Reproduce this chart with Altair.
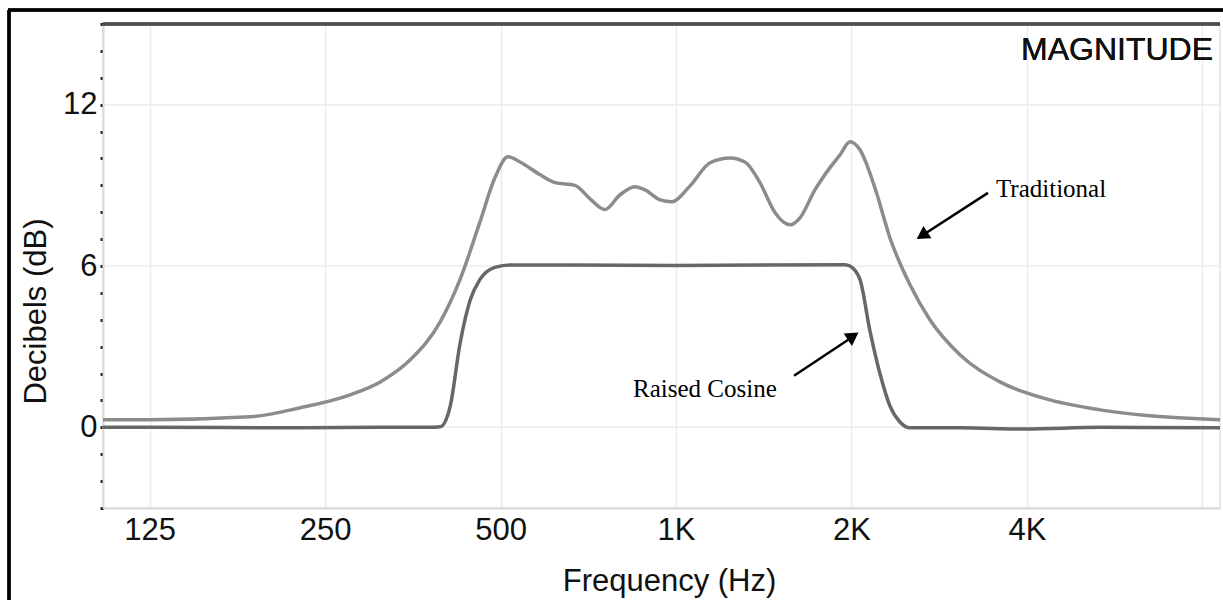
import altair as alt
import pandas as pd

# ---- data ----
trad_freq = [104, 125, 186, 227, 276, 311, 350, 394, 426, 461, 489, 515, 540, 584, 620, 671,
             712, 755, 802, 850, 885, 939, 984, 1057, 1144, 1238, 1313, 1394, 1479, 1569,
             1632, 1731, 1836, 1911, 1988, 2068, 2194, 2328, 2520, 2726, 3070, 3595, 4380,
             5337, 6500, 8575]
trad_db = [0.28, 0.28, 0.39, 0.73, 1.21, 1.69, 2.51, 3.92, 5.49, 7.64, 9.28, 10.06, 9.87, 9.4,
           9.1, 9.0, 8.5, 8.1, 8.65, 8.95, 8.83, 8.46, 8.39, 8.98, 9.84, 10.02, 9.87, 9.09,
           7.98, 7.53, 7.79, 8.83, 9.65, 10.13, 10.62, 10.32, 8.91, 7.05, 5.3, 4.0, 2.7, 1.69,
           1.02, 0.65, 0.43, 0.28]

rc_freq = [104, 125, 227, 311, 378, 394, 410, 426, 443, 461, 489, 519, 1000, 1949, 1988, 2068,
           2151, 2238, 2328, 2422, 2520, 3070, 3969, 5337, 8575]
rc_db = [0.0, 0.0, -0.02, 0.0, 0.0, 0.02, 0.8, 3.1, 4.7, 5.5, 5.95, 6.04, 6.02, 6.05, 6.0, 5.5,
         3.6, 2.0, 0.8, 0.2, -0.02, -0.02, -0.06, 0.0, -0.02]

series_names = ["Traditional", "Raised Cosine"]
series_colors = ["#8c8c8c", "#676767"]

x_ticks = [125, 250, 500, 1000, 2000, 4000, 8000]
y_ticks = list(range(-3, 16))
y_grid = [0, 6, 12]

# annotations (frequency, dB)
ann_text = ["Traditional", "Raised Cosine"]
ann_f = [3539, 844]
ann_db = [8.57, 1.13]
arrow_f0 = [3429, 1594]
arrow_db0 = [8.72, 1.92]
arrow_f1 = [2620, 2040]
arrow_db1 = [7.08, 3.46]
head_f = [2643, 2013]
head_db = [7.13, 3.39]
head_rot = [237, 56]

# ---- tables ----
lines = pd.concat([
    pd.DataFrame({"freq": trad_freq, "db": trad_db, "series": series_names[0]}),
    pd.DataFrame({"freq": rc_freq, "db": rc_db, "series": series_names[1]}),
])
ann = pd.DataFrame({"text": ann_text, "freq": ann_f, "db": ann_db})
arrows = pd.DataFrame({"f0": arrow_f0, "d0": arrow_db0, "f1": arrow_f1, "d1": arrow_db1,
                       "hf": head_f, "hd": head_db, "rot": head_rot})
grid = pd.DataFrame({"db": y_grid})

W, H = 1117, 484
xscale = alt.Scale(type="log", domain=[104, 8575], nice=False)
yscale = alt.Scale(domain=[-3, 15], nice=False, zero=False)

x_axis = alt.Axis(values=x_ticks, tickCount=40, grid=True, gridColor="#ececec", gridWidth=1.5,
                  labelExpr="datum.value == 8000 ? '' : (datum.value >= 1000 ? (datum.value/1000) + 'K' : datum.value + '')",
                  ticks=False, tickSize=0, labelPadding=7, labelFontSize=31, labelFont="Liberation Sans",
                  labelColor="#111", domainColor="#d9d9d9", domainWidth=2, labelOverlap=False,
                  title="Frequency (Hz)", titleFontSize=31, titleFont="Liberation Sans",
                  titleFontWeight="normal", titleColor="#111", titleY=82, titleX=566,
                  titleAlign="center", titleBaseline="alphabetic")
y_axis = alt.Axis(values=y_ticks, tickCount=40, grid=False, labelOverlap=False,
                  labelExpr="(datum.value % 6 === 0 && datum.value >= 0) ? datum.value + '' : ''",
                  tickSize=3, tickWidth=3, tickColor="#222", labelPadding=3,
                  labelFontSize=31, labelFont="Liberation Sans", labelColor="#111",
                  domainColor="#d9d9d9", domainWidth=2,
                  title="Decibels (dB)", titleFontSize=31, titleFont="Liberation Sans",
                  titleFontWeight="normal", titleColor="#111", titleAngle=-90,
                  titleX=-67, titleY=287, titleAlign="center", titleBaseline="middle")

grid_layer = alt.Chart(grid).mark_rule(color="#ececec", strokeWidth=1.5).encode(
    y=alt.Y("db:Q", scale=yscale, axis=y_axis)
)

line_layer = alt.Chart(lines).mark_line(strokeWidth=3.5, interpolate="monotone").encode(
    x=alt.X("freq:Q", scale=xscale, axis=x_axis),
    y=alt.Y("db:Q", scale=yscale, axis=y_axis),
    color=alt.Color("series:N", scale=alt.Scale(domain=series_names, range=series_colors), legend=None),
)

top_line = alt.Chart(grid).mark_rule(color="#4d4d4d", strokeWidth=3).encode(
    y=alt.datum(15, scale=yscale)
)

mag_text = alt.Chart(grid).mark_text(
    text="MAGNITUDE", font="Liberation Sans", fontSize=32, align="right", baseline="alphabetic", color="#111"
).encode(x=alt.value(1110), y=alt.value(36))

ann_layer = alt.Chart(ann).mark_text(
    font="Liberation Serif", fontSize=25, align="left", baseline="alphabetic", color="#000"
).encode(x=alt.X("freq:Q", scale=xscale), y=alt.Y("db:Q", scale=yscale), text="text:N")

shaft = alt.Chart(arrows).mark_rule(color="#000", strokeWidth=2.5).encode(
    x=alt.X("f0:Q", scale=xscale), y=alt.Y("d0:Q", scale=yscale), x2="f1:Q", y2="d1:Q"
)
heads = alt.Chart(arrows).mark_point(shape="triangle-up", filled=True, color="#000", size=220, opacity=1).encode(
    x=alt.X("hf:Q", scale=xscale), y=alt.Y("hd:Q", scale=yscale), angle=alt.Angle("rot:Q", scale=None)
)

frame_left = alt.Chart(grid).mark_rule(color="#000", strokeWidth=3).encode(
    x=alt.value(-94), y=alt.value(-14), y2=alt.value(580)
)
frame_top = alt.Chart(grid).mark_rule(color="#000", strokeWidth=3).encode(
    x=alt.value(-95), x2=alt.value(1125), y=alt.value(-14)
)

chart = alt.layer(
    grid_layer, line_layer, top_line, mag_text, ann_layer, shaft, heads, frame_left, frame_top
).properties(
    width=W, height=H,
    autosize=alt.AutoSizeParams(type="none"),
    padding={"left": 103, "top": 24, "right": 3, "bottom": 92},
    background="white",
).configure_view(stroke="#e3e3e3", strokeWidth=1.5)

chart.save("out.html", embed_options={"renderer": "svg", "actions": False})
